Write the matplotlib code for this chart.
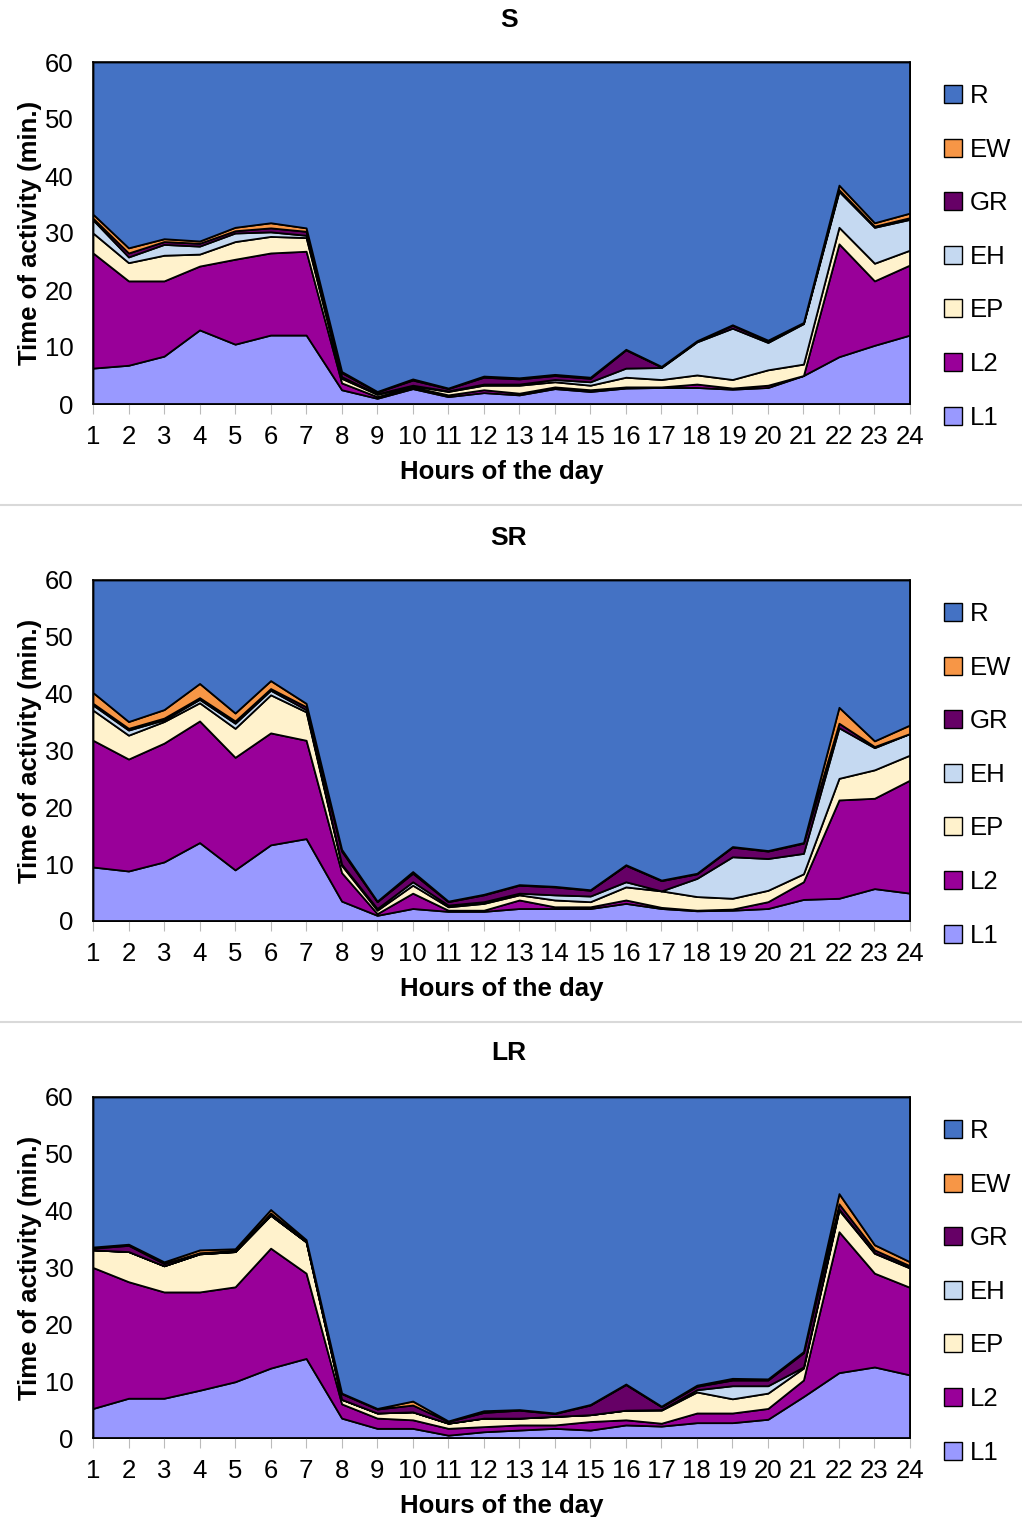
import numpy as np
import matplotlib.pyplot as plt
from matplotlib.patches import Patch
from matplotlib.lines import Line2D

plt.rcParams['font.family'] = ['Liberation Sans', 'DejaVu Sans']

hours = np.arange(1, 25)
labels = ['L1', 'L2', 'EP', 'EH', 'GR', 'EW', 'R']
colors = ['#9999FF', '#990099', '#FFF2CC', '#C5D9F1', '#660066', '#F79646', '#4472C4']

# S
s_L1 = [6.3, 6.8, 8.4, 13.0, 10.5, 12.1, 12.1, 2.5, 1.0, 2.7, 1.3, 2.0, 1.6, 2.7, 2.2, 2.8, 2.9, 2.9, 2.6, 2.9, 5.0, 8.3, 10.3, 12.1]
s_L2 = [20.2, 14.8, 13.2, 11.2, 14.9, 14.4, 14.7, 1.2, 0.3, 0.3, 0.3, 0.5, 0.3, 0.3, 0.3, 0.2, 0.1, 0.6, 0.2, 0.4, 0.0, 19.8, 11.3, 12.3]
s_EP = [3.5, 3.2, 4.5, 2.1, 3.1, 2.9, 2.4, 0.8, 0.4, 0.2, 0.6, 0.8, 1.4, 0.9, 0.8, 1.7, 1.3, 1.6, 1.5, 2.7, 2.0, 2.9, 3.1, 2.6]
s_EH = [2.3, 1.0, 1.9, 1.4, 1.5, 0.8, 0.4, 0.3, 0.1, 0.1, 0.1, 0.2, 0.2, 0.4, 0.6, 1.6, 2.1, 5.8, 9.0, 4.8, 7.1, 6.3, 6.3, 5.4]
s_GR = [0.3, 0.7, 0.5, 0.5, 0.4, 0.7, 0.7, 0.7, 0.3, 0.9, 0.4, 1.2, 0.9, 0.7, 0.6, 3.2, 0.1, 0.1, 0.5, 0.3, 0.1, 0.3, 0.2, 0.3]
s_EW = [0.7, 0.9, 0.5, 0.4, 0.6, 0.9, 0.6, 0.2, 0.1, 0.2, 0.1, 0.2, 0.2, 0.2, 0.2, 0.1, 0.1, 0.1, 0.1, 0.1, 0.1, 0.8, 0.6, 0.8]

# SR
sr_L1 = [9.5, 8.8, 10.4, 13.8, 9.0, 13.4, 14.5, 3.5, 1.0, 2.2, 1.7, 1.7, 2.2, 2.2, 2.2, 3.1, 2.2, 1.8, 1.9, 2.2, 3.8, 4.0, 5.7, 4.9]
sr_L2 = [22.3, 19.7, 20.9, 21.4, 19.8, 19.7, 17.3, 5.0, 0.3, 2.7, 0.2, 0.2, 1.5, 0.3, 0.3, 0.6, 0.2, 0.1, 0.2, 1.2, 3.1, 17.3, 15.9, 19.9]
sr_EP = [5.3, 4.2, 3.8, 3.2, 5.1, 6.7, 5.0, 1.3, 0.6, 1.4, 0.6, 1.2, 0.9, 1.2, 0.9, 2.3, 2.9, 2.4, 1.9, 2.0, 1.4, 3.8, 5.0, 4.4]
sr_EH = [0.9, 0.9, 0.3, 0.6, 0.9, 0.8, 0.4, 0.2, 0.3, 0.6, 0.3, 0.3, 0.3, 0.9, 1.0, 0.9, 0.0, 3.2, 7.3, 5.6, 3.6, 8.9, 3.9, 3.8]
sr_GR = [0.3, 0.3, 0.3, 0.3, 0.4, 0.3, 0.5, 2.3, 1.2, 1.5, 0.6, 1.2, 1.4, 1.4, 1.0, 2.9, 1.8, 0.8, 1.7, 1.3, 1.8, 0.8, 0.2, 0.0]
sr_EW = [1.9, 1.2, 1.5, 2.5, 1.4, 1.4, 0.6, 0.3, 0.1, 0.3, 0.1, 0.1, 0.1, 0.1, 0.1, 0.1, 0.1, 0.1, 0.1, 0.1, 0.1, 2.8, 1.0, 1.5]

# LR
lr_L1 = [5.2, 7.0, 7.0, 8.4, 9.9, 12.3, 14.0, 3.5, 1.7, 1.7, 0.5, 1.1, 1.4, 1.7, 1.4, 2.3, 2.1, 2.7, 2.7, 3.3, 7.3, 11.5, 12.5, 11.1]
lr_L2 = [24.8, 20.5, 18.7, 17.3, 16.7, 21.1, 15.0, 2.5, 1.8, 1.5, 1.2, 0.9, 0.9, 0.6, 1.5, 0.9, 0.5, 1.7, 1.7, 1.9, 2.9, 24.8, 16.5, 15.4]
lr_EP = [3.1, 5.3, 4.6, 6.7, 6.2, 5.8, 5.5, 0.8, 0.9, 1.4, 0.9, 1.5, 1.2, 1.5, 1.2, 1.7, 2.3, 3.7, 2.5, 2.7, 2.1, 3.8, 3.5, 3.4]
lr_EH = [0.0, 0.0, 0.0, 0.0, 0.0, 0.0, 0.0, 0.0, 0.0, 0.0, 0.0, 0.0, 0.0, 0.0, 0.0, 0.0, 0.1, 0.4, 2.3, 1.3, 0.2, 0.2, 0.1, 0.1]
lr_GR = [0.3, 1.1, 0.4, 0.2, 0.2, 0.4, 0.2, 1.0, 0.7, 1.2, 0.3, 1.0, 1.4, 0.5, 1.7, 4.5, 0.5, 0.6, 1.0, 1.0, 2.5, 0.9, 0.5, 0.3]
lr_EW = [0.2, 0.2, 0.3, 0.5, 0.3, 0.6, 0.2, 0.1, 0.1, 0.7, 0.1, 0.3, 0.1, 0.1, 0.1, 0.1, 0.1, 0.2, 0.3, 0.2, 0.2, 1.8, 0.9, 0.7]

panels = [
    ('S', [s_L1, s_L2, s_EP, s_EH, s_GR, s_EW]),
    ('SR', [sr_L1, sr_L2, sr_EP, sr_EH, sr_GR, sr_EW]),
    ('LR', [lr_L1, lr_L2, lr_EP, lr_EH, lr_GR, lr_EW]),
]

fig = plt.figure(figsize=(10.22, 15.17), dpi=100)
W, H = 1022, 1517
# pixel boxes: (top, bottom) of each plot area
boxes = [(62, 404), (580, 921), (1097, 1438)]
title_y = [20, 538, 1053]

for (name, series), (top, bot), ty in zip(panels, boxes, title_y):
    ax = fig.add_axes([93 / W, 1 - bot / H, (910 - 93) / W, (bot - top) / H])
    arr = np.array(series)
    rest = 60 - arr.sum(axis=0)
    ax.stackplot(hours, *arr, rest, colors=colors, edgecolor='black', linewidth=1.3)
    ax.set_xlim(1, 24)
    ax.set_ylim(0, 60)
    ax.set_xticks(hours)
    ax.set_yticks(range(0, 61, 10))
    ax.tick_params(axis='x', direction='out', length=7, color='#bbbbbb', labelsize=18.5, pad=8)
    ax.tick_params(axis='y', length=0, labelsize=18.5, pad=14)
    for sp in ax.spines.values():
        sp.set_linewidth(1.2)
    ax.set_xlabel('Hours of the day', fontsize=18.5, fontweight='bold', labelpad=8)
    ax.set_ylabel('Time of activity (min.)', fontsize=18.5, fontweight='bold', labelpad=2)
    fig.text(509 / W, 1 - ty / H, name, fontsize=19, fontweight='bold', ha='center', va='center')

    handles = [Patch(facecolor=c, edgecolor='black', linewidth=1) for c in colors[::-1]]
    ax.legend(handles, labels[::-1], loc='upper left', bbox_to_anchor=(1.029, 0.965),
              frameon=False, fontsize=18.5, handlelength=0.7, handleheight=0.7,
              handletextpad=0.3, labelspacing=1.15, borderaxespad=0)

for y in (505, 1022):
    fig.add_artist(Line2D([0, 1], [1 - y / H, 1 - y / H], color='#d9d9d9', linewidth=1.5))

fig.savefig('out.png', dpi=100)
